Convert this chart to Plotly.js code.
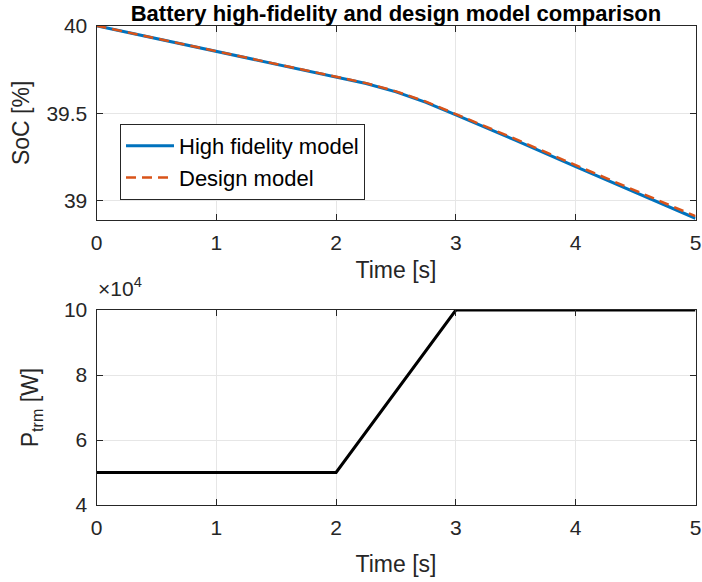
<!DOCTYPE html>
<html>
<head>
<meta charset="utf-8">
<script src="https://cdn.plot.ly/plotly-3.0.1.min.js"></script>
<style>
  html, body { margin: 0; padding: 0; background: #fff; }
  #chart { width: 702px; height: 582px; }
</style>
</head>
<body>
<div id="chart"></div>
<script>
// ---- data ----
var timeSoC = [0, 0.5, 1, 1.5, 2, 2.25, 2.5, 2.75, 3, 3.5, 4, 4.5, 5];
var socHighFidelity = [40, 39.927, 39.855, 39.782, 39.71, 39.67, 39.622, 39.562, 39.49, 39.345, 39.195, 39.048, 38.9];
var socDesign = [40, 39.928, 39.856, 39.784, 39.712, 39.672, 39.625, 39.566, 39.495, 39.352, 39.203, 39.058, 38.912];
var timePower = [0, 2, 3, 5];
var powerTrm = [50000, 50000, 100000, 100000];
var powerTickVals = [40000, 60000, 80000, 100000];
var powerTickText = ['4', '6', '8', '10'];
var seriesNames = ['High fidelity model', 'Design model'];

var W = 702, H = 582;
var FONT = 'Liberation Sans, Arial, Helvetica, sans-serif';
var AX = '#262626';
var GRID = '#e6e6e6';

var xDom = [96.5 / W, 695.5 / W];
var topDom = [(H - 220) / H, (H - 25.7) / H];
var botDom = [(H - 505) / H, (H - 310) / H];

var traces = [
  { x: timeSoC, y: socHighFidelity, type: 'scatter', mode: 'lines', name: seriesNames[0],
    xaxis: 'x', yaxis: 'y', line: { color: '#0072BD', width: 3 } },
  { x: timeSoC, y: socDesign, type: 'scatter', mode: 'lines', name: seriesNames[1],
    xaxis: 'x', yaxis: 'y', line: { color: '#D95319', width: 2.5, dash: '10px,6px' } },
  { x: timePower, y: powerTrm, type: 'scatter', mode: 'lines', showlegend: false,
    xaxis: 'x2', yaxis: 'y2', line: { color: '#000000', width: 3 } }
];

function axisCommon() {
  return {
    showline: true, linecolor: AX, linewidth: 1, mirror: 'ticks',
    ticks: 'inside', ticklen: 6, tickcolor: AX, tickwidth: 1,
    showgrid: true, gridcolor: GRID, gridwidth: 1, zeroline: false,
    tickfont: { family: FONT, size: 21, color: AX },
    ticklabelstandoff: 4,
    automargin: false, fixedrange: true
  };
}

var xa = Object.assign(axisCommon(), {
  domain: xDom, anchor: 'y', range: [0, 5], dtick: 1, tick0: 0,
  title: { text: 'Time [s]', font: { family: FONT, size: 23, color: AX }, standoff: 8 }
});
var ya = Object.assign(axisCommon(), {
  domain: topDom, anchor: 'x', range: [38.89, 40], tickvals: [39, 39.5, 40],
  title: { text: 'SoC [%]', font: { family: FONT, size: 23, color: AX }, standoff: 10 }
});
var xa2 = Object.assign(axisCommon(), {
  domain: xDom, anchor: 'y2', range: [0, 5], dtick: 1, tick0: 0,
  title: { text: 'Time [s]', font: { family: FONT, size: 23, color: AX }, standoff: 17 }
});
var ya2 = Object.assign(axisCommon(), {
  domain: botDom, anchor: 'x2', range: [40000, 100000],
  tickvals: powerTickVals, ticktext: powerTickText,
  title: { text: 'P<sub>trm</sub> [W]', font: { family: FONT, size: 23, color: AX }, standoff: 18 }
});

var layout = {
  width: W, height: H,
  margin: { l: 0, r: 0, t: 0, b: 0, pad: 0 },
  paper_bgcolor: '#ffffff', plot_bgcolor: '#ffffff',
  showlegend: true,
  title: {
    text: '<b>Battery high-fidelity and design model comparison</b>',
    font: { family: FONT, size: 22, color: '#000000' },
    x: 396 / W, xanchor: 'center', xref: 'paper',
    y: 1 - 21 / H, yanchor: 'bottom', yref: 'paper', pad: { t: 0, b: 0 }
  },
  xaxis: xa, yaxis: ya, xaxis2: xa2, yaxis2: ya2,
  legend: {
    x: 120 / W, y: (H - 124) / H, xanchor: 'left', yanchor: 'top',
    bgcolor: '#ffffff', bordercolor: AX, borderwidth: 1,
    font: { family: FONT, size: 22, color: '#000000' },
    itemwidth: 48, tracegroupgap: 0
  },
  annotations: [
    { text: '×10<sup>4</sup>', xref: 'paper', yref: 'paper', x: 96 / W, y: (H - 302) / H,
      xanchor: 'left', yanchor: 'bottom', showarrow: false,
      font: { family: FONT, size: 21, color: AX } }
  ]
};

Plotly.newPlot('chart', traces, layout, { staticPlot: true, displayModeBar: false });
</script>
</body>
</html>
